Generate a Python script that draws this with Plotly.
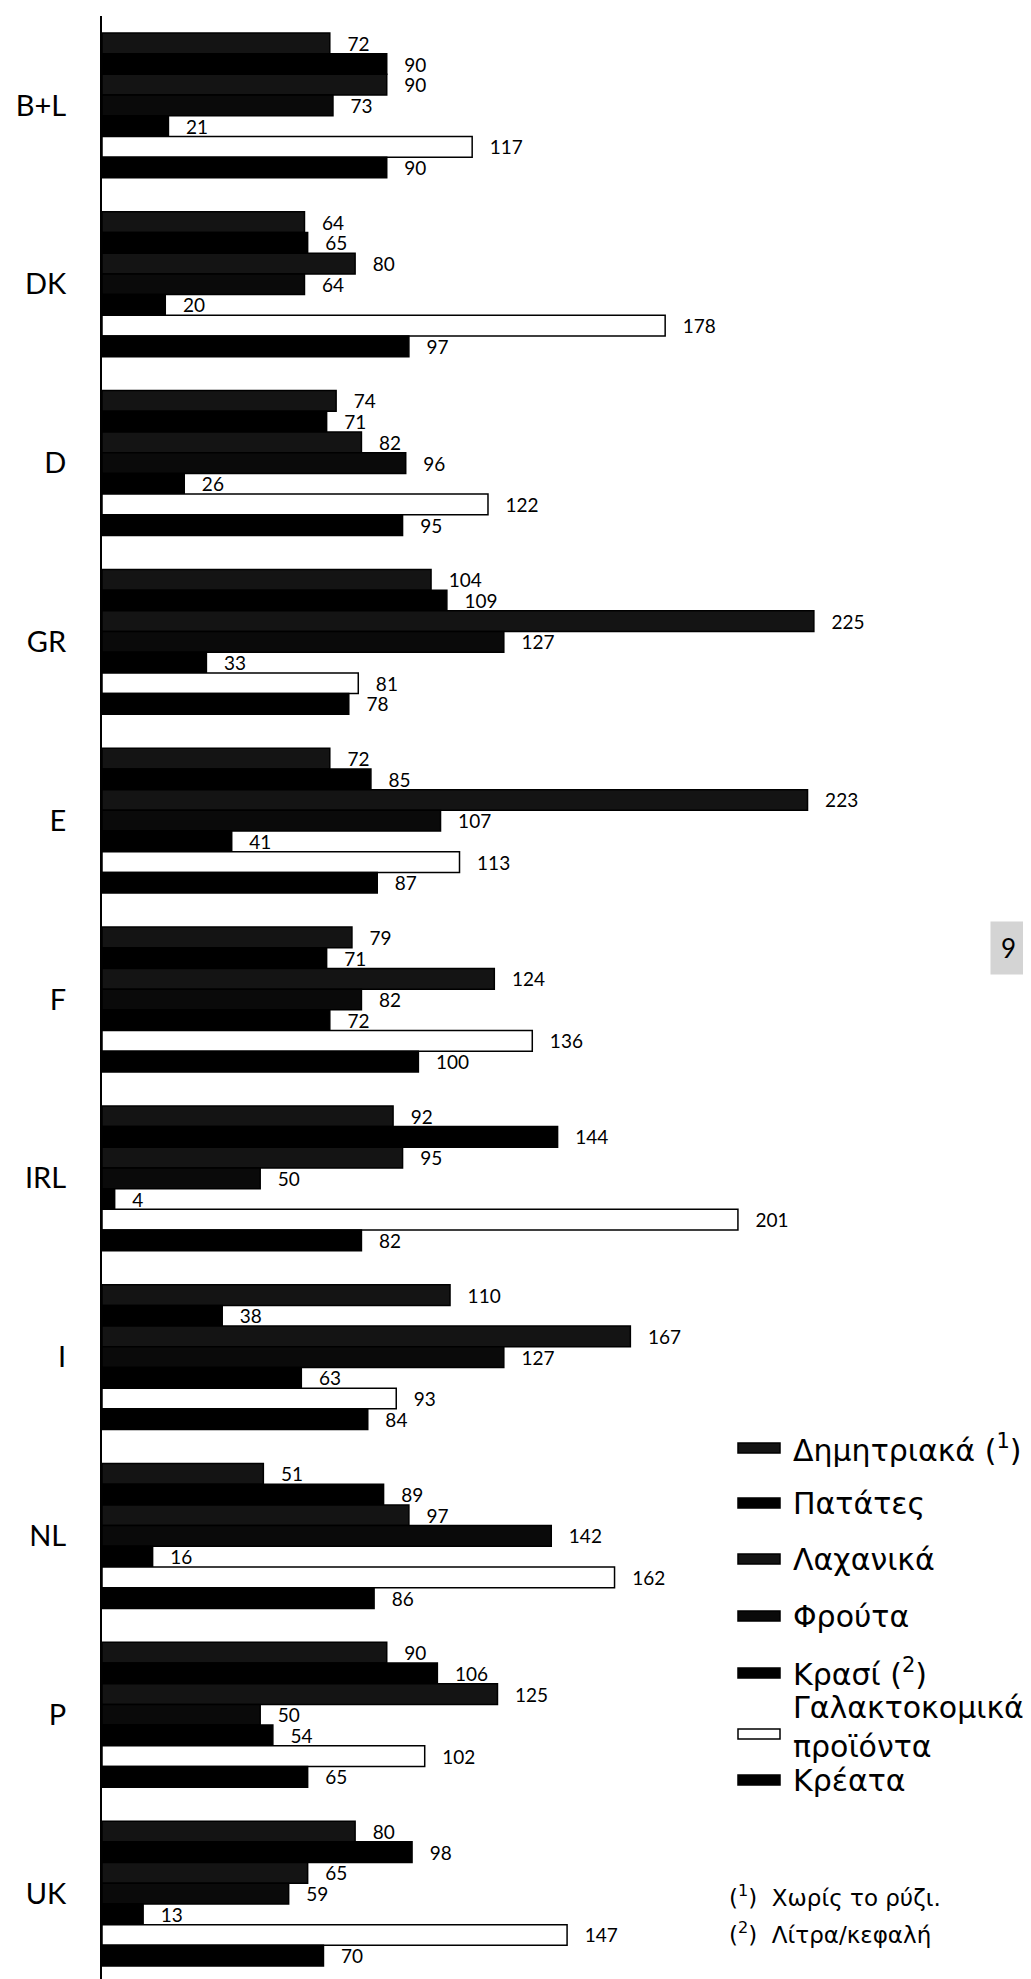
import plotly.graph_objects as go

countries = ["B+L", "DK", "D", "GR", "E", "F", "IRL", "I", "NL", "P", "UK"]

cereals = [72, 64, 74, 104, 72, 79, 92, 110, 51, 90, 80]
potatoes = [90, 65, 71, 109, 85, 71, 144, 38, 89, 106, 98]
vegetables = [90, 80, 82, 225, 223, 124, 95, 167, 97, 125, 65]
fruit = [73, 64, 96, 127, 107, 82, 50, 127, 142, 50, 59]
wine = [21, 20, 26, 33, 41, 72, 4, 63, 16, 54, 13]
dairy = [117, 178, 122, 81, 113, 136, 201, 93, 162, 102, 147]
meat = [90, 97, 95, 78, 87, 100, 82, 84, 86, 65, 70]

series_names = [
    "Δημητριακά (<sup>1</sup>)",
    "Πατάτες",
    "Λαχανικά",
    "Φρούτα",
    "Κρασί (<sup>2</sup>)",
    "Γαλακτοκομικά<br>προϊόντα",
    "Κρέατα",
]
series_values = [cereals, potatoes, vegetables, fruit, wine, dairy, meat]
fills = ["#141414", "#000000", "#141414", "#0a0a0a", "#000000", "#ffffff", "#000000"]

FONT = "Lato, 'Open Sans', sans-serif"
LEGFONT = "'DejaVu Sans', Verdana, sans-serif"

W, H = 1031, 1979
ML, MR, MT, MB = 94, 10, 8, 4
PW, PH = W - ML - MR, H - MT - MB


def px_x(px):
    return (px - ML) / PW


def px_y(py):
    return (H - MB - py) / PH


fig = go.Figure()
for name, vals, col in zip(series_names, series_values, fills):
    fig.add_trace(go.Bar(
        y=countries,
        x=vals,
        name=name,
        orientation="h",
        marker=dict(color=col, line=dict(color="black", width=1.5)),
        text=vals,
        texttemplate="\u00a0\u00a0\u00a0%{x}",
        textposition="outside",
        constraintext="none",
        cliponaxis=False,
        textfont=dict(size=19, color="black", family=FONT),
        showlegend=False,
    ))

# custom legend (wide flat swatches as in the original)
swatch_centres = [1440, 1495, 1551, 1608, 1665, 1726, 1772]
text_centres = [1440, 1495, 1551, 1608, 1665, 1719, 1772]
shapes = []
annotations = []
for name, col, sy, ty in zip(series_names, fills, swatch_centres, text_centres):
    shapes.append(dict(
        type="rect", xref="paper", yref="paper",
        x0=px_x(730), x1=px_x(772), y0=px_y(sy + 5), y1=px_y(sy - 5),
        fillcolor=col, line=dict(color="black", width=1.5),
    ))
    annotations.append(dict(
        text=name, xref="paper", yref="paper",
        x=px_x(783), y=px_y(ty), xanchor="left", yanchor="middle",
        align="left", showarrow=False,
        font=dict(size=30, family=LEGFONT, color="black"),
    ))

annotations += [
    dict(text="(<sup>1</sup>)  Χωρίς το ρύζι.", xref="paper", yref="paper",
         x=px_x(719), y=px_y(1888), xanchor="left", yanchor="middle", showarrow=False,
         font=dict(size=23, family=LEGFONT, color="black")),
    dict(text="(<sup>2</sup>)  Λίτρα/κεφαλή", xref="paper", yref="paper",
         x=px_x(719), y=px_y(1925), xanchor="left", yanchor="middle", showarrow=False,
         font=dict(size=23, family=LEGFONT, color="black")),
    dict(text="9", xref="paper", yref="paper",
         x=px_x(1000), y=px_y(940), xanchor="center", yanchor="middle", showarrow=False,
         bgcolor="#d4d4d4", borderpad=10,
         font=dict(size=26, family=FONT, color="black")),
]

fig.update_layout(
    width=W,
    height=H,
    margin=dict(l=ML, r=MR, t=MT, b=MB),
    paper_bgcolor="white",
    plot_bgcolor="white",
    barmode="group",
    bargap=0.19,
    bargroupgap=0,
    font=dict(family=FONT, color="black"),
    showlegend=False,
    xaxis=dict(
        range=[0, 293],
        visible=False,
        fixedrange=True,
    ),
    yaxis=dict(
        autorange="reversed",
        showline=True,
        linecolor="black",
        linewidth=2,
        ticks="",
        showgrid=False,
        zeroline=False,
        tickfont=dict(size=29, family=FONT, color="black"),
        ticklabelstandoff=28,
    ),
    shapes=shapes,
    annotations=annotations,
)

fig.write_html("out.html")
